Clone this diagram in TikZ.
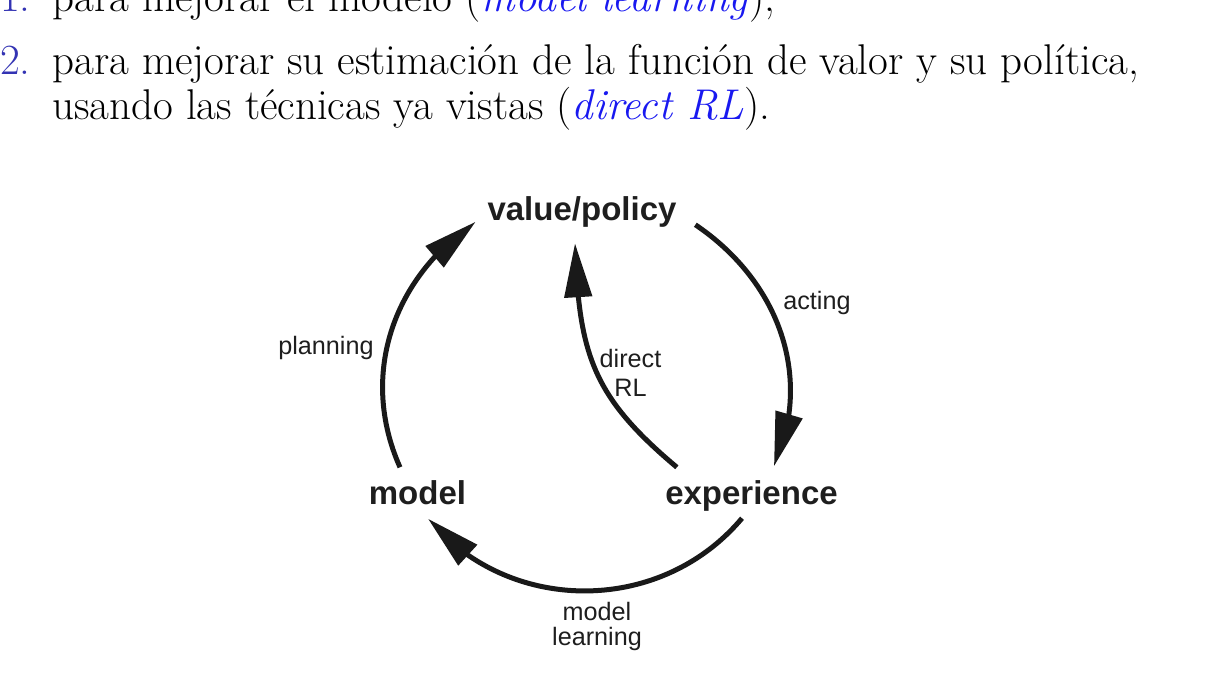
\documentclass[tikz,border=0pt]{standalone}
\usepackage{fontspec}
\usepackage{xcolor}
\usetikzlibrary{arrows.meta, bending, positioning}
\newfontfamily\diagfont{Liberation Sans}
\definecolor{itemblue}{RGB}{51,51,179}
\definecolor{linkblue}{RGB}{25,25,240}
\definecolor{inkgray}{RGB}{30,30,30}

\begin{document}
\begin{tikzpicture}[
    x=5pt, y=5pt,
    body/.style={
        inner sep=0pt,
        anchor=base west,
        font=\fontsize{21.5}{25}\selectfont
    },
    itemnum/.style={body, anchor=base east, text=itemblue},
    keynode/.style={
        inner sep=2pt,
        anchor=base,
        text=inkgray,
        font=\diagfont\bfseries\fontsize{16.5}{20}\selectfont
    },
    lbl/.style={
        inner sep=0pt,
        align=center,
        text=inkgray,
        font=\diagfont\fontsize{12.6}{14.5}\selectfont
    },
    arrow/.style={line width=2.5pt, draw=black!90, -{Triangle[length=27pt, width=13.5pt, flex]}}
]
\useasboundingbox (0,0) rectangle (120.7,69.7);

% Enumerated text
\node[itemnum] (n1) at (3.1,68.5) {1.};
\node[body] (t1) at (5.2,68.5) {para mejorar el modelo (\textcolor{linkblue}{\textit{model learning}}),};
\node[itemnum] (n2) at (3.1,62.2) {2.};
\node[body] (t2) at (5.2,62.2) {para mejorar su estimación de la función de valor y su política,};
\node[body] (t3) at (5.2,57.7) {usando las técnicas ya vistas (\textcolor{linkblue}{\textit{direct RL}}).};

% Cycle nodes
\node[keynode] (vp) at (58.2,47.6) {value/policy};
\node[keynode] (model) at (41.75,19.2) {model};
\node[keynode] (exp) at (75.15,19.2) {experience};

% Arrow labels
\node[lbl, anchor=base] (acting) at (81.7,38.7) {acting};
\node[lbl, anchor=base] (planning) at (32.6,34.2) {planning};
\node[lbl] (direct) at (63.05,32.43) {direct\\RL};
\node[lbl] (mlearn) at (59.7,7.05) {model\\[-2.3pt]learning};

% Arrows around the cycle
\draw[arrow] ([shift={(-1.75,0.94)}]model.north) to[out=114, in=214] ([shift={(-0.75,-0.93)}]vp.west);
\draw[arrow] ([shift={(1.45,-1.23)}]vp.east) to[out=-34, in=66] ([shift={(2.25,1.04)}]exp.north);
\draw[arrow] ([shift={(-0.95,-0.2)}]exp.south) to[out=-130, in=-50, looseness=1.03] ([shift={(1.05,-0.9)}]model.south);

% Direct RL shortcut
\draw[arrow] ([shift={(1.6,0.94)}]exp.north west) to[out=140, in=-88, looseness=1.15] ([shift={(-0.7,-1.1)}]vp.south);

\end{tikzpicture}
\end{document}
